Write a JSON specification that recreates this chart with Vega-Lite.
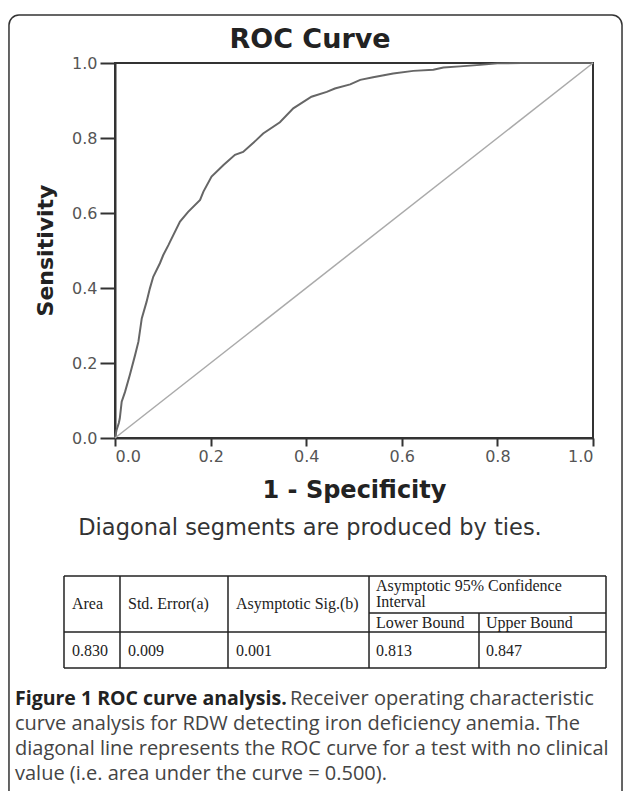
{
  "$schema": "https://vega.github.io/schema/vega-lite/v6.json",
  "autosize": {"type": "none"},
  "width": 478,
  "height": 375,
  "padding": {"left": 115, "top": 63, "right": 35, "bottom": 353},
  "background": "white",
  "config": {
    "view": {"stroke": "#333", "strokeWidth": 2},
    "axis": {"grid": false}
  },
  "layer": [
    {
      "data": {"values": [
        {"fpr": 0, "tpr": 0}, {"fpr": 0.003, "tpr": 0.02}, {"fpr": 0.008, "tpr": 0.04}, {"fpr": 0.010, "tpr": 0.052},
        {"fpr": 0.014, "tpr": 0.097}, {"fpr": 0.021, "tpr": 0.123}, {"fpr": 0.031, "tpr": 0.168}, {"fpr": 0.042, "tpr": 0.221},
        {"fpr": 0.049, "tpr": 0.257}, {"fpr": 0.056, "tpr": 0.319}, {"fpr": 0.066, "tpr": 0.363}, {"fpr": 0.073, "tpr": 0.399},
        {"fpr": 0.080, "tpr": 0.430}, {"fpr": 0.094, "tpr": 0.466}, {"fpr": 0.101, "tpr": 0.488}, {"fpr": 0.112, "tpr": 0.515},
        {"fpr": 0.115, "tpr": 0.523}, {"fpr": 0.136, "tpr": 0.577}, {"fpr": 0.153, "tpr": 0.603}, {"fpr": 0.178, "tpr": 0.635},
        {"fpr": 0.185, "tpr": 0.657}, {"fpr": 0.202, "tpr": 0.697}, {"fpr": 0.227, "tpr": 0.728}, {"fpr": 0.251, "tpr": 0.755},
        {"fpr": 0.268, "tpr": 0.763}, {"fpr": 0.296, "tpr": 0.795}, {"fpr": 0.310, "tpr": 0.812}, {"fpr": 0.345, "tpr": 0.842},
        {"fpr": 0.373, "tpr": 0.879}, {"fpr": 0.411, "tpr": 0.910}, {"fpr": 0.443, "tpr": 0.923}, {"fpr": 0.460, "tpr": 0.932},
        {"fpr": 0.492, "tpr": 0.943}, {"fpr": 0.513, "tpr": 0.955}, {"fpr": 0.540, "tpr": 0.962}, {"fpr": 0.582, "tpr": 0.972},
        {"fpr": 0.624, "tpr": 0.979}, {"fpr": 0.666, "tpr": 0.982}, {"fpr": 0.687, "tpr": 0.988}, {"fpr": 0.722, "tpr": 0.991},
        {"fpr": 0.764, "tpr": 0.995}, {"fpr": 0.80, "tpr": 0.999}, {"fpr": 0.85, "tpr": 1.0}, {"fpr": 1.0, "tpr": 1.0}
      ]},
      "mark": {"type": "line", "color": "#666", "strokeWidth": 2},
      "encoding": {
        "x": {"field": "fpr", "type": "quantitative", "title": "1 - Specificity",
          "scale": {"domain": [0, 1], "nice": false, "zero": false},
          "axis": {"values": [0, 0.2, 0.4, 0.6, 0.8, 1.0], "format": ".1f",
            "domainColor": "#333", "domainWidth": 2, "tickColor": "#333", "tickWidth": 2, "tickSize": 8,
            "labelPadding": 2, "labelFont": "DejaVu Sans", "labelFontSize": 16, "labelColor": "#555",
            "titleFont": "DejaVu Sans", "titleFontSize": 24, "titleFontWeight": "bold", "titleColor": "#222",
            "titleY": 52, "titleBaseline": "middle"}},
        "y": {"field": "tpr", "type": "quantitative", "title": "Sensitivity",
          "scale": {"domain": [0, 1], "nice": false, "zero": false},
          "axis": {"values": [0, 0.2, 0.4, 0.6, 0.8, 1.0], "format": ".1f",
            "domainColor": "#333", "domainWidth": 2, "tickColor": "#333", "tickWidth": 2, "tickSize": 15,
            "labelPadding": 3, "labelFont": "DejaVu Sans", "labelFontSize": 16, "labelColor": "#555",
            "titleFont": "DejaVu Sans", "titleFontSize": 22, "titleFontWeight": "bold", "titleColor": "#222",
            "titleX": -70, "titleY": 187, "titleAngle": -90, "titleAlign": "center", "titleBaseline": "middle"}}
      }
    },
    {
      "data": {"values": [{"frame": "outer"}]},
      "mark": {"type": "rect", "filled": false, "stroke": "#333", "strokeWidth": 1.5, "cornerRadius": 10},
      "encoding": {
        "x": {"datum": -0.2218, "type": "quantitative", "title": "1 - Specificity"},
        "x2": {"datum": 1.0607},
        "y": {"datum": 1.128, "type": "quantitative", "title": "Sensitivity"},
        "y2": {"datum": -0.97}
      }
    },
    {
      "data": {"values": [{"ref": "chance"}]},
      "mark": {"type": "rule", "color": "#aaa", "strokeWidth": 1.5},
      "encoding": {
        "x": {"datum": 0, "type": "quantitative", "title": "1 - Specificity"},
        "y": {"datum": 0, "type": "quantitative", "title": "Sensitivity"},
        "x2": {"datum": 1},
        "y2": {"datum": 1}
      }
    },
    {
      "data": {"values": [{"label": "ROC Curve"}]},
      "mark": {"type": "text", "font": "DejaVu Sans", "fontSize": 27, "fontWeight": "bold", "color": "#222", "baseline": "middle", "align": "center"},
      "encoding": {
        "x": {"datum": 0.408, "type": "quantitative", "title": "1 - Specificity"},
        "y": {"datum": 1.0613, "type": "quantitative", "title": "Sensitivity"},
        "text": {"field": "label"}
      }
    },
    {
      "data": {"values": [{"note": "Diagonal segments are produced by ties."}]},
      "mark": {"type": "text", "font": "DejaVu Sans", "fontSize": 22.5, "color": "#333", "baseline": "middle", "align": "center"},
      "encoding": {
        "x": {"datum": 0.408, "type": "quantitative", "title": "1 - Specificity"},
        "y": {"datum": -0.24, "type": "quantitative", "title": "Sensitivity"},
        "text": {"field": "note"}
      }
    },
    {
      "data": {"values": [
        {"x": -0.1067, "x2": 1.0272, "y": -0.368, "y2": -0.368},
        {"x": -0.1067, "x2": 1.0272, "y": -0.6133, "y2": -0.6133},
        {"x": -0.1067, "x2": 1.0272, "y": -0.5173, "y2": -0.5173},
        {"x": 0.5314, "x2": 1.0272, "y": -0.4667, "y2": -0.4667},
        {"x": -0.1067, "x2": -0.1067, "y": -0.368, "y2": -0.6133},
        {"x": 0.01046, "x2": 0.01046, "y": -0.368, "y2": -0.6133},
        {"x": 0.2364, "x2": 0.2364, "y": -0.368, "y2": -0.6133},
        {"x": 0.5314, "x2": 0.5314, "y": -0.368, "y2": -0.6133},
        {"x": 0.7615, "x2": 0.7615, "y": -0.4667, "y2": -0.6133},
        {"x": 1.0272, "x2": 1.0272, "y": -0.368, "y2": -0.6133}
      ]},
      "mark": {"type": "rule", "color": "#222", "strokeWidth": 1.5},
      "encoding": {
        "x": {"field": "x", "type": "quantitative", "title": "1 - Specificity"},
        "x2": {"field": "x2"},
        "y": {"field": "y", "type": "quantitative", "title": "Sensitivity"},
        "y2": {"field": "y2"}
      }
    },
    {
      "data": {"values": [
        {"cx": -0.09, "cy": -0.4427, "cell": "Area"},
        {"cx": 0.0272, "cy": -0.4427, "cell": "Std. Error(a)"},
        {"cx": 0.2531, "cy": -0.4427, "cell": "Asymptotic Sig.(b)"},
        {"cx": 0.546, "cy": -0.3947, "cell": "Asymptotic 95% Confidence"},
        {"cx": 0.546, "cy": -0.4373, "cell": "Interval"},
        {"cx": 0.546, "cy": -0.4933, "cell": "Lower Bound"},
        {"cx": 0.7762, "cy": -0.4933, "cell": "Upper Bound"},
        {"cx": -0.09, "cy": -0.568, "cell": "0.830"},
        {"cx": 0.0272, "cy": -0.568, "cell": "0.009"},
        {"cx": 0.2531, "cy": -0.568, "cell": "0.001"},
        {"cx": 0.546, "cy": -0.568, "cell": "0.813"},
        {"cx": 0.7762, "cy": -0.568, "cell": "0.847"}
      ]},
      "mark": {"type": "text", "font": "Liberation Serif", "fontSize": 16, "color": "#222", "align": "left", "baseline": "middle"},
      "encoding": {
        "x": {"field": "cx", "type": "quantitative", "title": "1 - Specificity"},
        "y": {"field": "cy", "type": "quantitative", "title": "Sensitivity"},
        "text": {"field": "cell"}
      }
    },
    {
      "data": {"values": [{"cap": "Figure 1 ROC curve analysis."}]},
      "mark": {"type": "text", "font": "Open Sans", "fontSize": 19.5, "fontWeight": "bold", "color": "#222", "align": "left", "baseline": "middle"},
      "encoding": {
        "x": {"datum": -0.2092, "type": "quantitative", "title": "1 - Specificity"},
        "y": {"datum": -0.696, "type": "quantitative", "title": "Sensitivity"},
        "text": {"field": "cap"}
      }
    },
    {
      "data": {"values": [
        {"lx": 0.366, "ly": -0.696, "line": "Receiver operating characteristic"},
        {"lx": -0.2092, "ly": -0.7627, "line": "curve analysis for RDW detecting iron deficiency anemia. The"},
        {"lx": -0.2092, "ly": -0.8293, "line": "diagonal line represents the ROC curve for a test with no clinical"},
        {"lx": -0.2092, "ly": -0.896, "line": "value (i.e. area under the curve = 0.500)."}
      ]},
      "mark": {"type": "text", "font": "Open Sans", "fontSize": 20, "color": "#444", "align": "left", "baseline": "middle"},
      "encoding": {
        "x": {"field": "lx", "type": "quantitative", "title": "1 - Specificity"},
        "y": {"field": "ly", "type": "quantitative", "title": "Sensitivity"},
        "text": {"field": "line"}
      }
    }
  ]
}
